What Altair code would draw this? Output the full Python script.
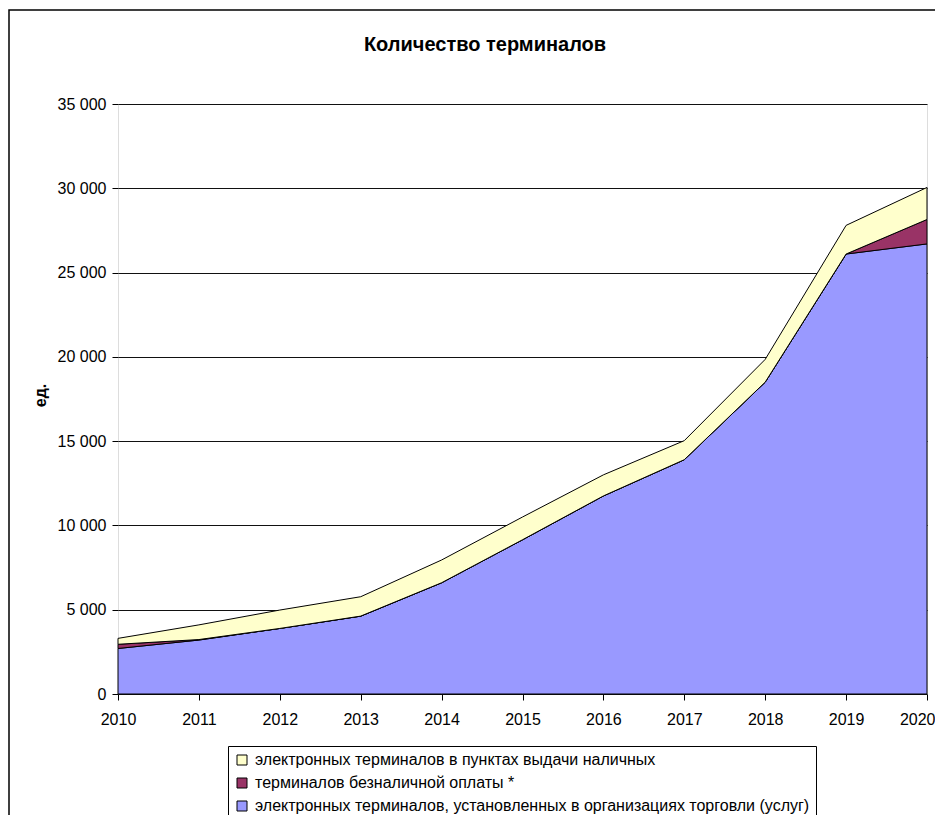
import altair as alt
import pandas as pd

years = [2010, 2011, 2012, 2013, 2014, 2015, 2016, 2017, 2018, 2019, 2020]
retail = [2700, 3200, 3890, 4620, 6600, 9150, 11750, 13900, 18500, 26100, 26700]
cashless = [250, 30, 0, 0, 0, 0, 0, 0, 0, 0, 1450]
cashout = [350, 870, 1090, 1150, 1350, 1350, 1250, 1130, 1350, 1700, 1900]

names = [
    "электронных терминалов в пунктах выдачи наличных",
    "терминалов безналичной оплаты *",
    "электронных терминалов, установленных в организациях торговли (услуг)",
]
colors = ["#FFFFCC", "#993366", "#9999FF"]
y_ticks = [0, 5000, 10000, 15000, 20000, 25000, 30000, 35000]
title_text = "Количество терминалов"

rows = []
for i, yr in enumerate(years):
    rows.append({"year": yr, "series": names[2], "value": retail[i], "ord": 0})
    rows.append({"year": yr, "series": names[1], "value": cashless[i], "ord": 1})
    rows.append({"year": yr, "series": names[0], "value": cashout[i], "ord": 2})
df = pd.DataFrame(rows)

FONT = "Liberation Sans"

area = alt.Chart(df).mark_area(stroke="black", strokeWidth=1, strokeJoin="miter").encode(
    x=alt.X(
        "year:Q",
        scale=alt.Scale(domain=[2010, 2020], nice=False, zero=False),
        axis=alt.Axis(values=years, format="d", title=None, grid=False, domain=False,
                      ticks=True, tickSize=6, tickColor="black", labelPadding=11,
                      labelFontSize=16, labelColor="black", labelFont=FONT,
                      labelFlush=False, labelOverlap=False,
                      labelAlign=alt.expr("datum.value == 2020 ? 'right' : 'center'"),
                      labelOffset=alt.expr("datum.value == 2020 ? 8 : 0")),
    ),
    y=alt.Y(
        "value:Q",
        stack="zero",
        scale=alt.Scale(domain=[0, 35000], nice=False),
        axis=alt.Axis(values=y_ticks, grid=True, gridColor="#111111", gridWidth=1,
                      domain=False, tickSize=6, tickColor="black", labelPadding=6,
                      labelFontSize=16, labelColor="black", labelFont=FONT,
                      labelExpr="replace(format(datum.value, ',d'), ',', ' ')",
                      title="ед.", titleFont=FONT, titleFontSize=16, titleFontWeight="bold",
                      titleColor="black", titleX=-78, titleY=291, titleAngle=270,
                      titleAlign="center", titleBaseline="middle"),
    ),
    color=alt.Color(
        "series:N",
        scale=alt.Scale(domain=names, range=colors),
        legend=alt.Legend(
            title=None, orient="none", legendX=110, legendY=642,
            direction="vertical", symbolType="square", symbolSize=100,
            symbolStrokeColor="black", symbolStrokeWidth=1,
            labelFont=FONT, labelFontSize=16, labelColor="black", labelLimit=800,
            rowPadding=7, padding=6, strokeColor="black", fillColor="white",
            labelOffset=5, cornerRadius=0,
        ),
    ),
    order=alt.Order("ord:Q", sort="ascending"),
)

title = alt.Chart(pd.DataFrame({"t": [title_text]})).mark_text(
    font=FONT, fontSize=20, fontWeight="bold", color="black", align="center",
    baseline="alphabetic"
).encode(x=alt.value(367), y=alt.value(-53), text="t:N")

border = alt.Chart(pd.DataFrame({"t": [1]})).mark_rect(
    fill=None, stroke="black", strokeWidth=1.5
).encode(x=alt.value(-109), x2=alt.value(900), y=alt.value(-94), y2=alt.value(800))

chart = alt.layer(border, area, title).properties(
    width=809, height=590,
    autosize=alt.AutoSizeParams(type="none"),
    padding={"left": 110, "top": 96, "right": 8, "bottom": 121},
).configure_view(fill="#C0C0C0", stroke="#808080", strokeWidth=1.5).configure(
    font=FONT, background="white"
)

chart.save("out.html", embed_options={"renderer": "svg", "actions": False})
